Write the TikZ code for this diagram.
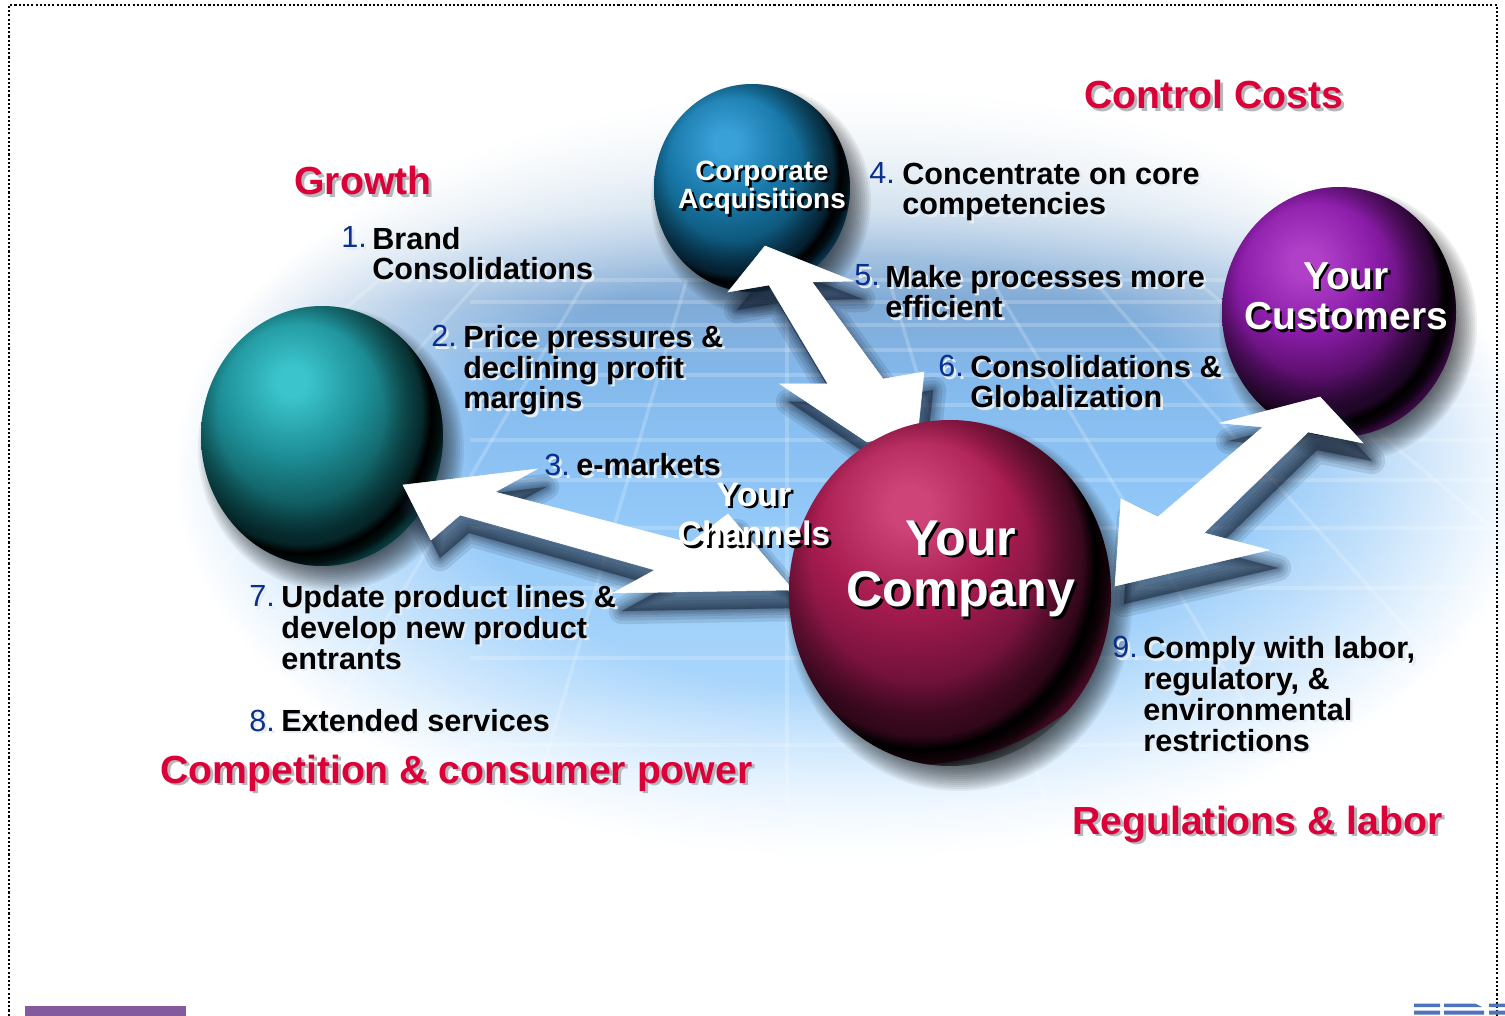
\documentclass[tikz,border=0pt]{standalone}
\usepackage{fontspec}
\setmainfont{Liberation Sans}
\usetikzlibrary{fadings}
\definecolor{redhead}{HTML}{DC0038}
\definecolor{numblue}{HTML}{0A2F8C}
\definecolor{shred}{HTML}{B4B8BC}
\definecolor{shlight}{HTML}{E4ECF4}
\definecolor{arrowsh}{HTML}{18263A}
\definecolor{bgT}{HTML}{F2F6FA}
\definecolor{bgA}{HTML}{C6D9EA}
\definecolor{bgB}{HTML}{7FAAD6}
\definecolor{bgC}{HTML}{84B9EC}
\definecolor{bgD}{HTML}{92C8F8}
\definecolor{bgE}{HTML}{AAD6FB}
\definecolor{bgF}{HTML}{E4F2FF}
% in a TikZ shading the central 50bp square is what is fitted to the path
\pgfdeclareverticalshading{bgv}{100bp}{color(0bp)=(bgF);color(25bp)=(bgF);color(36bp)=(bgE);color(47.5bp)=(bgD);color(56bp)=(bgC);color(61bp)=(bgB);color(67bp)=(bgA);color(75bp)=(bgT);color(100bp)=(bgT)}
\pgfdeclareradialshading{bgrad}{\pgfpointorigin}{color(0bp)=(pgftransparent!0);color(14bp)=(pgftransparent!0);color(19bp)=(pgftransparent!40);color(25bp)=(pgftransparent!100);color(50bp)=(pgftransparent!100)}
\pgfdeclarefading{bgfade}{\pgfuseshading{bgrad}}
\pgfdeclareradialshading{ringsh}{\pgfpointorigin}{color(0bp)=(pgftransparent!100);color(13.75bp)=(pgftransparent!100);color(20bp)=(pgftransparent!50);color(21.5bp)=(pgftransparent!0);color(23bp)=(pgftransparent!20);color(24bp)=(pgftransparent!55);color(25bp)=(pgftransparent!75);color(50bp)=(pgftransparent!100)}
\pgfdeclarefading{ringfade}{\pgfuseshading{ringsh}}
\newcommand\mkball[6]{%
  \definecolor{#1a}{HTML}{#2}\definecolor{#1b}{HTML}{#3}\definecolor{#1c}{HTML}{#4}\definecolor{#1d}{HTML}{#5}\definecolor{#1f}{HTML}{#6}%
  \pgfdeclareradialshading{#1}{\pgfpointorigin}{color(0bp)=(#1a);color(2bp)=(#1a);color(9.5bp)=(#1b);color(15bp)=(#1c);color(20bp)=(#1d);color(25bp)=(#1f);color(50bp)=(#1f)}}
\mkball{ballteal}{3BC4CC}{1E9098}{126468}{0B484C}{0E5A60}
\mkball{ballblue}{3AA0D8}{1878A8}{0F5C80}{0A4060}{0E4C70}
\mkball{ballpurple}{B040C8}{8A1CA8}{5E1070}{3A0C48}{5A1068}
\mkball{ballred}{CE4478}{A81C50}{7E1440}{5A0E30}{6A1036}
\newcommand\sphereshadow[4]{%
  \foreach \t in {12,10,8,6,4,2,0,-2,-4,-6,-8,-10,-12,-14}{%
    \fill[black,opacity=.06] (#1+9,#2+13) ellipse [x radius={(#3+\t)*0.02cm},y radius={(#4+\t)*0.02cm}];}}
\newcommand\sphere[8]{%
  \begin{scope}
    \clip (#1,#2) ellipse [x radius={#3*0.02cm},y radius={#4*0.02cm}];
    \shade[shading=#8] (#5,#6) circle [radius={#7*0.02cm}];
    \fill[black,path fading=ringfade] ({#1-0.177*#3},{#2-0.177*#4}) ellipse [x radius={1.25*#3*0.02cm},y radius={1.25*#4*0.02cm}];
  \end{scope}}
\newcommand\shcol{white}
\newlength\shoff
\newcommand\sh[1]{\leavevmode\rlap{\kern\shoff\smash{\raisebox{-\shoff}{\textcolor{\shcol}{#1}}}}#1}
\tikzset{
  bodytext/.style={inner sep=0pt,anchor=base west,align=left,text=black,
    font=\bfseries\fontsize{17.4}{17.57}\selectfont,
    execute at begin node={\renewcommand\shcol{shlight}\setlength\shoff{1.5pt}}},
  numtext/.style={inner sep=0pt,anchor=base west,text=numblue,
    font=\fontsize{17.4}{17.57}\selectfont,
    execute at begin node={\renewcommand\shcol{shlight}\setlength\shoff{1.5pt}}},
  headtext/.style={inner sep=0pt,anchor=base west,text=redhead,
    font=\bfseries\fontsize{22.3}{24}\selectfont,
    execute at begin node={\renewcommand\shcol{shred}\setlength\shoff{1.7pt}}},
  balltext/.style={inner sep=0pt,anchor=base,align=center,text=white,
    execute at begin node={\renewcommand\shcol{black}\setlength\shoff{1.5pt}}},
  gridline/.style={white,opacity=.2,line width=2pt},
  arA/.style={insert path={(403,485)--(537,469)--(495,492)--(690,543)--(728,514)--(788,584)--(790,590)--(613,593)--(655,570)--(460,515)--(431,540)--cycle}},
  arB/.style={insert path={(1320,397)--(1363,443)--(1308,432)--(1204,533)--(1269,550)--(1115,586)--(1121,499)--(1158,517)--(1263,427)--(1220,423)--cycle}},
  arC/.style={insert path={(765,246)--(853,281)--(812,282)--(883,379)--(924,372)--(918,430)--(867,442)--(780,384)--(828,384)--(769,285)--(728,292)--cycle}},
  arrowbody/.style={fill=white,draw=white,line width=.3pt},
}
\newcommand\arshadow[1]{%
  \foreach \w in {30,22,15,10,6,2}{%
    \draw[arrowsh,fill=arrowsh,opacity=.12,line join=round,line width=\w*0.5pt,shift={(9,18)},#1];}}
\begin{document}
\begin{tikzpicture}[x=0.02cm,y=-0.02cm]
\useasboundingbox (0,0) rectangle (1505,1016);
\clip (0,0) rectangle (1505,1016);
% backdrop
\shade[shading=bgv,path fading=bgfade] (175,85) rectangle (1530,860);
% perspective grid
\foreach \yy in {280,302,325,350,375,405,440,480,528,588,658,745}{
  \draw[gridline] (470,\yy) -- (1500,\yy);}
\foreach \k in {-1.2,-0.9,-0.59,-0.295,0,0.3,0.6,0.9,1.2}{
  \draw[gridline] ({787+\k*(280+60)},280) -- ({787+\k*(805+60)},805);}
% outer spheres
\sphereshadow{322}{436}{121}{130}
\sphereshadow{752}{188}{98}{104}
\sphereshadow{1339}{312}{117}{125}
\sphere{322}{436}{121}{130}{292}{382}{190}{ballteal}
\sphere{752}{188}{98}{104}{726}{143}{156}{ballblue}
\sphere{1339}{312}{117}{125}{1306}{263}{183}{ballpurple}
% arrow shadows
\arshadow{arA}
\arshadow{arB}
\arshadow{arC}
\sphereshadow{950}{593}{161}{173}
% block arrows
\path[arrowbody,arA];
\path[arrowbody,arB];
\path[arrowbody,arC];
% central sphere
\sphere{950}{593}{161}{173}{910}{507}{258}{ballred}
% dotted frame
\draw[black,line width=1.3pt,dash pattern=on 1.2pt off 1.2pt] (9,1020) -- (9,5) -- (1497,5) -- (1497,1020);
% bottom fragments
\fill[fill={rgb,255:red,132;green,90;blue,158}] (25,1006) rectangle (186,1016);
\fill[fill={rgb,255:red,80;green,115;blue,190}] (1414,1003.5) rectangle (1440,1007) (1444,1003.5) -- (1475,1003.5) -- (1482,1007) -- (1444,1007) -- cycle (1489,1003.5) rectangle (1505,1007)
  (1414,1010.5) rectangle (1440,1014.5) (1444,1010.5) rectangle (1484,1014.5) (1489,1010.5) rectangle (1505,1014.5);
% sphere labels (anchored at the baseline of the last line)
\node[balltext,font=\bfseries\fontsize{15.9}{16.5}\selectfont] (corp) at (762,209) {\sh{Corporate}\\\sh{Acquisitions}};
\node[balltext,font=\bfseries\fontsize{22.2}{23.2}\selectfont] (cust) at (1346,330) {\sh{Your}\\\sh{Customers}};
\node[balltext,font=\bfseries\fontsize{19.3}{22.7}\selectfont] (chan) at (754,546) {\sh{Your}\\\sh{Channels}};
\node[balltext,font=\bfseries\fontsize{28.6}{29.5}\selectfont] (comp) at (961,607) {\sh{Your}\\\sh{Company}};
% headings
\node[headtext] (hcost) at (1084,109) {\sh{Control Costs}};
\node[headtext] (hgrow) at (294,195) {\sh{Growth}};
\node[headtext] (hcomp) at (160,783) {\sh{Competition \& consumer power}};
\node[headtext] (hreg) at (1072,834) {\sh{Regulations \& labor}};
% numbered items
\node[numtext] (n1) at (341,248) {\sh{1.}};
\node[bodytext] (t1) at (372,280) {\sh{Brand}\\\sh{Consolidations}};
\node[numtext] (n2) at (431,347) {\sh{2.}};
\node[bodytext] (t2) at (463,409) {\sh{Price pressures \&}\\\sh{declining profit}\\\sh{margins}};
\node[numtext] (n3) at (544,476) {\sh{3.}};
\node[bodytext] (t3) at (576,476) {\sh{e-markets}};
\node[numtext] (n4) at (869,184) {\sh{4.}};
\node[bodytext] (t4) at (902,215) {\sh{Concentrate on core}\\\sh{competencies}};
\node[numtext] (n5) at (854,286) {\sh{5.}};
\node[bodytext] (t5) at (885,318) {\sh{Make processes more}\\\sh{efficient}};
\node[numtext] (n6) at (938,377) {\sh{6.}};
\node[bodytext] (t6) at (970,408) {\sh{Consolidations \&}\\\sh{Globalization}};
\node[numtext] (n7) at (249,607) {\sh{7.}};
\node[bodytext] (t7) at (281,669) {\sh{Update product lines \&}\\\sh{develop new product}\\\sh{entrants}};
\node[numtext] (n8) at (249,731) {\sh{8.}};
\node[bodytext] (t8) at (281,731) {\sh{Extended services}};
\node[numtext] (n9) at (1112,658) {\sh{9.}};
\node[bodytext] (t9) at (1143,751) {\sh{Comply with labor,}\\\sh{regulatory, \&}\\\sh{environmental}\\\sh{restrictions}};
\end{tikzpicture}
\end{document}
